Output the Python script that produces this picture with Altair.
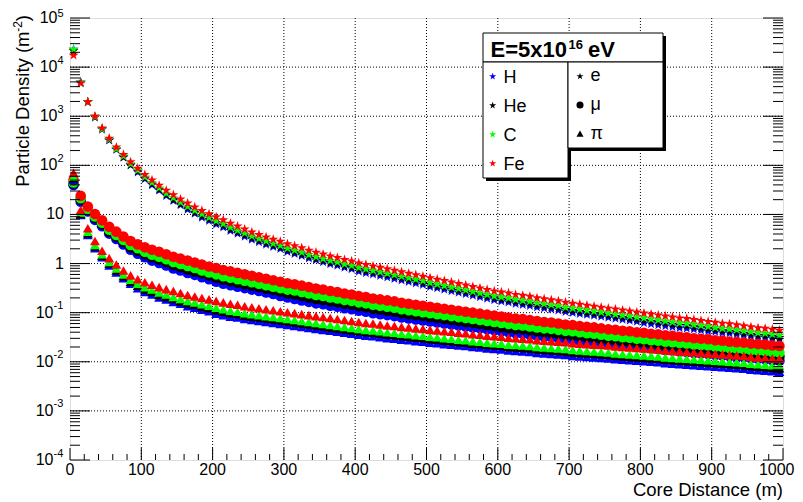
import altair as alt
import pandas as pd

FONT = "Liberation Sans"

# ---------------- data ----------------
core_distance_m = [
    5, 15, 25, 35, 45, 55, 65, 75, 85, 95,
    105, 115, 125, 135, 145, 155, 165, 175, 185, 195,
    205, 215, 225, 235, 245, 255, 265, 275, 285, 295,
    305, 315, 325, 335, 345, 355, 365, 375, 385, 395,
    405, 415, 425, 435, 445, 455, 465, 475, 485, 495,
    505, 515, 525, 535, 545, 555, 565, 575, 585, 595,
    605, 615, 625, 635, 645, 655, 665, 675, 685, 695,
    705, 715, 725, 735, 745, 755, 765, 775, 785, 795,
    805, 815, 825, 835, 845, 855, 865, 875, 885, 895,
    905, 915, 925, 935, 945, 955, 965, 975, 985, 995]

# log10 of particle density (m^-2)
e_H_log10 = [
    4.36, 3.69, 3.29, 2.98, 2.73, 2.51, 2.32, 2.16, 2.00, 1.86,
    1.72, 1.60, 1.49, 1.38, 1.28, 1.19, 1.10, 1.02, 0.94, 0.87,
    0.80, 0.74, 0.67, 0.61, 0.55, 0.49, 0.44, 0.39, 0.34, 0.30,
    0.24, 0.20, 0.16, 0.11, 0.07, 0.03, -0.01, -0.04, -0.08, -0.11,
    -0.16, -0.19, -0.22, -0.25, -0.28, -0.31, -0.34, -0.37, -0.40, -0.43,
    -0.47, -0.50, -0.53, -0.56, -0.59, -0.62, -0.65, -0.68, -0.71, -0.74,
    -0.77, -0.79, -0.82, -0.84, -0.86, -0.89, -0.91, -0.93, -0.95, -0.98,
    -1.00, -1.02, -1.04, -1.06, -1.08, -1.10, -1.12, -1.14, -1.16, -1.18,
    -1.21, -1.23, -1.25, -1.27, -1.29, -1.31, -1.32, -1.34, -1.36, -1.38,
    -1.39, -1.41, -1.42, -1.44, -1.46, -1.48, -1.50, -1.51, -1.53, -1.55]
e_He_log10 = [
    4.33, 3.69, 3.29, 2.98, 2.74, 2.52, 2.33, 2.17, 2.01, 1.88,
    1.74, 1.62, 1.51, 1.40, 1.30, 1.21, 1.13, 1.04, 0.97, 0.90,
    0.83, 0.77, 0.70, 0.64, 0.58, 0.52, 0.47, 0.42, 0.37, 0.33,
    0.27, 0.23, 0.19, 0.14, 0.10, 0.06, 0.02, -0.01, -0.05, -0.08,
    -0.12, -0.15, -0.18, -0.21, -0.24, -0.27, -0.30, -0.33, -0.36, -0.39,
    -0.43, -0.46, -0.49, -0.52, -0.55, -0.58, -0.61, -0.64, -0.67, -0.70,
    -0.73, -0.75, -0.78, -0.80, -0.82, -0.85, -0.87, -0.89, -0.91, -0.94,
    -0.96, -0.98, -1.00, -1.02, -1.04, -1.06, -1.08, -1.10, -1.12, -1.14,
    -1.16, -1.18, -1.20, -1.22, -1.24, -1.26, -1.27, -1.29, -1.31, -1.33,
    -1.35, -1.37, -1.38, -1.40, -1.42, -1.44, -1.46, -1.47, -1.49, -1.51]
e_C_log10 = [
    4.36, 3.68, 3.29, 2.99, 2.74, 2.53, 2.34, 2.19, 2.03, 1.90,
    1.76, 1.65, 1.54, 1.43, 1.34, 1.25, 1.16, 1.08, 1.01, 0.94,
    0.87, 0.81, 0.74, 0.68, 0.62, 0.56, 0.51, 0.46, 0.41, 0.37,
    0.31, 0.27, 0.23, 0.18, 0.14, 0.10, 0.06, 0.03, -0.01, -0.04,
    -0.08, -0.11, -0.14, -0.17, -0.20, -0.23, -0.26, -0.29, -0.32, -0.35,
    -0.39, -0.42, -0.45, -0.48, -0.51, -0.54, -0.57, -0.60, -0.63, -0.66,
    -0.68, -0.70, -0.73, -0.75, -0.77, -0.80, -0.82, -0.84, -0.86, -0.89,
    -0.91, -0.93, -0.95, -0.97, -0.99, -1.01, -1.03, -1.05, -1.07, -1.09,
    -1.11, -1.13, -1.15, -1.17, -1.19, -1.21, -1.22, -1.24, -1.26, -1.28,
    -1.30, -1.32, -1.33, -1.35, -1.37, -1.39, -1.41, -1.42, -1.44, -1.46]
e_Fe_log10 = [
    4.24, 3.67, 3.29, 3.00, 2.76, 2.55, 2.37, 2.22, 2.07, 1.94,
    1.81, 1.70, 1.59, 1.49, 1.40, 1.31, 1.23, 1.15, 1.08, 1.01,
    0.95, 0.89, 0.82, 0.76, 0.70, 0.64, 0.59, 0.54, 0.49, 0.45,
    0.40, 0.36, 0.32, 0.27, 0.23, 0.19, 0.15, 0.12, 0.08, 0.05,
    0.01, -0.02, -0.05, -0.08, -0.11, -0.14, -0.17, -0.20, -0.23, -0.26,
    -0.29, -0.32, -0.35, -0.38, -0.41, -0.44, -0.47, -0.50, -0.53, -0.56,
    -0.58, -0.60, -0.63, -0.65, -0.67, -0.70, -0.72, -0.74, -0.76, -0.79,
    -0.81, -0.83, -0.85, -0.87, -0.89, -0.91, -0.93, -0.95, -0.97, -0.99,
    -1.01, -1.03, -1.05, -1.07, -1.09, -1.11, -1.12, -1.14, -1.16, -1.18,
    -1.20, -1.22, -1.23, -1.25, -1.27, -1.29, -1.31, -1.32, -1.34, -1.36]

mu_H_log10 = [
    1.60, 1.26, 1.06, 0.89, 0.76, 0.61, 0.50, 0.39, 0.28, 0.20,
    0.13, 0.06, 0.01, -0.04, -0.10, -0.14, -0.19, -0.23, -0.28, -0.32,
    -0.37, -0.41, -0.44, -0.47, -0.50, -0.53, -0.56, -0.59, -0.62, -0.66,
    -0.69, -0.72, -0.75, -0.78, -0.81, -0.83, -0.86, -0.88, -0.91, -0.93,
    -0.96, -0.98, -1.01, -1.03, -1.05, -1.07, -1.10, -1.12, -1.14, -1.16,
    -1.18, -1.20, -1.22, -1.24, -1.26, -1.28, -1.30, -1.32, -1.34, -1.36,
    -1.38, -1.40, -1.42, -1.43, -1.45, -1.47, -1.49, -1.50, -1.52, -1.54,
    -1.55, -1.57, -1.59, -1.60, -1.62, -1.64, -1.65, -1.67, -1.68, -1.70,
    -1.71, -1.73, -1.74, -1.76, -1.77, -1.79, -1.80, -1.82, -1.83, -1.84,
    -1.86, -1.87, -1.89, -1.90, -1.91, -1.93, -1.94, -1.95, -1.97, -1.98]
mu_He_log10 = [
    1.63, 1.30, 1.09, 0.93, 0.80, 0.65, 0.55, 0.44, 0.33, 0.26,
    0.19, 0.13, 0.08, 0.03, -0.03, -0.07, -0.12, -0.16, -0.20, -0.24,
    -0.29, -0.33, -0.36, -0.39, -0.42, -0.45, -0.48, -0.51, -0.54, -0.57,
    -0.61, -0.63, -0.66, -0.69, -0.72, -0.74, -0.77, -0.79, -0.82, -0.84,
    -0.87, -0.89, -0.92, -0.94, -0.96, -0.98, -1.01, -1.03, -1.05, -1.07,
    -1.09, -1.11, -1.13, -1.15, -1.17, -1.19, -1.21, -1.23, -1.25, -1.27,
    -1.29, -1.31, -1.33, -1.34, -1.36, -1.38, -1.40, -1.41, -1.43, -1.45,
    -1.46, -1.48, -1.50, -1.51, -1.53, -1.55, -1.56, -1.58, -1.59, -1.61,
    -1.62, -1.64, -1.65, -1.67, -1.68, -1.70, -1.71, -1.73, -1.74, -1.75,
    -1.77, -1.78, -1.80, -1.81, -1.82, -1.84, -1.85, -1.86, -1.88, -1.89]
mu_C_log10 = [
    1.65, 1.33, 1.11, 0.96, 0.83, 0.69, 0.58, 0.48, 0.38, 0.31,
    0.24, 0.18, 0.14, 0.09, 0.03, -0.01, -0.05, -0.09, -0.14, -0.18,
    -0.22, -0.26, -0.29, -0.32, -0.35, -0.38, -0.41, -0.44, -0.47, -0.50,
    -0.53, -0.55, -0.58, -0.61, -0.64, -0.66, -0.69, -0.71, -0.74, -0.76,
    -0.79, -0.81, -0.84, -0.86, -0.88, -0.90, -0.93, -0.95, -0.97, -0.99,
    -1.01, -1.03, -1.05, -1.07, -1.09, -1.11, -1.13, -1.15, -1.17, -1.19,
    -1.21, -1.23, -1.25, -1.26, -1.28, -1.30, -1.32, -1.33, -1.35, -1.37,
    -1.38, -1.40, -1.42, -1.43, -1.45, -1.47, -1.48, -1.50, -1.51, -1.53,
    -1.54, -1.56, -1.57, -1.59, -1.60, -1.62, -1.63, -1.65, -1.66, -1.67,
    -1.69, -1.70, -1.72, -1.73, -1.74, -1.76, -1.77, -1.78, -1.80, -1.81]
mu_Fe_log10 = [
    1.70, 1.38, 1.16, 1.01, 0.88, 0.75, 0.65, 0.55, 0.46, 0.39,
    0.33, 0.28, 0.24, 0.19, 0.14, 0.10, 0.06, 0.02, -0.02, -0.06,
    -0.09, -0.13, -0.16, -0.19, -0.22, -0.25, -0.28, -0.31, -0.34, -0.37,
    -0.40, -0.42, -0.45, -0.48, -0.51, -0.53, -0.56, -0.58, -0.61, -0.63,
    -0.66, -0.68, -0.71, -0.73, -0.75, -0.77, -0.80, -0.82, -0.84, -0.86,
    -0.88, -0.90, -0.92, -0.94, -0.96, -0.98, -1.00, -1.02, -1.04, -1.06,
    -1.08, -1.10, -1.12, -1.13, -1.15, -1.17, -1.19, -1.20, -1.22, -1.24,
    -1.25, -1.27, -1.29, -1.30, -1.32, -1.34, -1.35, -1.37, -1.38, -1.40,
    -1.41, -1.43, -1.44, -1.46, -1.47, -1.49, -1.50, -1.52, -1.53, -1.54,
    -1.56, -1.57, -1.59, -1.60, -1.61, -1.63, -1.64, -1.65, -1.67, -1.68]

pi_H_log10 = [
    1.70, 0.99, 0.58, 0.31, 0.13, -0.04, -0.18, -0.30, -0.41, -0.50,
    -0.58, -0.63, -0.69, -0.73, -0.78, -0.82, -0.87, -0.90, -0.94, -0.97,
    -1.02, -1.05, -1.08, -1.10, -1.13, -1.15, -1.17, -1.19, -1.21, -1.23,
    -1.25, -1.27, -1.29, -1.31, -1.33, -1.35, -1.37, -1.39, -1.41, -1.43,
    -1.45, -1.47, -1.48, -1.50, -1.52, -1.53, -1.55, -1.56, -1.58, -1.59,
    -1.61, -1.62, -1.64, -1.65, -1.67, -1.68, -1.70, -1.71, -1.73, -1.74,
    -1.75, -1.77, -1.78, -1.79, -1.80, -1.82, -1.83, -1.84, -1.85, -1.86,
    -1.88, -1.89, -1.90, -1.91, -1.92, -1.93, -1.95, -1.96, -1.97, -1.98,
    -1.99, -2.00, -2.01, -2.03, -2.04, -2.05, -2.06, -2.07, -2.08, -2.09,
    -2.10, -2.11, -2.12, -2.13, -2.14, -2.16, -2.17, -2.18, -2.19, -2.20]
pi_He_log10 = [
    1.74, 1.01, 0.62, 0.35, 0.16, 0.00, -0.14, -0.26, -0.37, -0.45,
    -0.53, -0.58, -0.64, -0.68, -0.72, -0.77, -0.81, -0.84, -0.88, -0.91,
    -0.95, -0.98, -1.01, -1.03, -1.06, -1.08, -1.10, -1.12, -1.14, -1.16,
    -1.18, -1.20, -1.22, -1.24, -1.26, -1.28, -1.30, -1.32, -1.34, -1.36,
    -1.38, -1.40, -1.41, -1.43, -1.45, -1.46, -1.48, -1.49, -1.51, -1.52,
    -1.54, -1.55, -1.57, -1.58, -1.60, -1.61, -1.63, -1.64, -1.66, -1.67,
    -1.68, -1.70, -1.71, -1.72, -1.73, -1.75, -1.76, -1.77, -1.78, -1.79,
    -1.81, -1.82, -1.83, -1.84, -1.85, -1.86, -1.88, -1.89, -1.90, -1.91,
    -1.92, -1.93, -1.94, -1.96, -1.97, -1.98, -1.99, -2.00, -2.01, -2.02,
    -2.03, -2.04, -2.05, -2.06, -2.07, -2.09, -2.10, -2.11, -2.12, -2.13]
pi_C_log10 = [
    1.77, 1.04, 0.65, 0.38, 0.19, 0.03, -0.10, -0.22, -0.33, -0.41,
    -0.48, -0.53, -0.59, -0.63, -0.68, -0.72, -0.76, -0.79, -0.83, -0.86,
    -0.90, -0.93, -0.96, -0.98, -1.01, -1.03, -1.05, -1.07, -1.09, -1.11,
    -1.13, -1.15, -1.17, -1.19, -1.21, -1.23, -1.25, -1.27, -1.29, -1.31,
    -1.33, -1.35, -1.36, -1.38, -1.40, -1.41, -1.43, -1.44, -1.46, -1.47,
    -1.49, -1.50, -1.52, -1.53, -1.55, -1.56, -1.58, -1.59, -1.61, -1.62,
    -1.63, -1.65, -1.66, -1.67, -1.68, -1.70, -1.71, -1.72, -1.73, -1.74,
    -1.76, -1.77, -1.78, -1.79, -1.80, -1.81, -1.83, -1.84, -1.85, -1.86,
    -1.87, -1.88, -1.89, -1.91, -1.92, -1.93, -1.94, -1.95, -1.96, -1.97,
    -1.98, -1.99, -2.00, -2.01, -2.02, -2.04, -2.05, -2.06, -2.07, -2.08]
pi_Fe_log10 = [
    1.85, 1.09, 0.72, 0.46, 0.26, 0.11, -0.02, -0.14, -0.24, -0.32,
    -0.38, -0.43, -0.48, -0.52, -0.56, -0.60, -0.64, -0.67, -0.70, -0.73,
    -0.76, -0.79, -0.82, -0.84, -0.87, -0.89, -0.91, -0.93, -0.95, -0.97,
    -0.99, -1.01, -1.03, -1.05, -1.07, -1.09, -1.11, -1.13, -1.15, -1.17,
    -1.19, -1.21, -1.22, -1.24, -1.26, -1.27, -1.29, -1.30, -1.32, -1.33,
    -1.35, -1.36, -1.38, -1.39, -1.41, -1.42, -1.44, -1.45, -1.47, -1.48,
    -1.49, -1.51, -1.52, -1.53, -1.54, -1.56, -1.57, -1.58, -1.59, -1.60,
    -1.62, -1.63, -1.64, -1.65, -1.66, -1.67, -1.69, -1.70, -1.71, -1.72,
    -1.73, -1.74, -1.75, -1.77, -1.78, -1.79, -1.80, -1.81, -1.82, -1.83,
    -1.84, -1.85, -1.86, -1.87, -1.88, -1.90, -1.91, -1.92, -1.93, -1.94]

primaries = ["H", "He", "C", "Fe"]
primary_colors = ["#0000ff", "#000000", "#00ff00", "#ff0000"]
particles = ["e", "mu", "pi"]
particle_symbols = ["e", "μ", "π"]

x_major_ticks = [0, 100, 200, 300, 400, 500, 600, 700, 800, 900, 1000]
x_tick_labels = ["0", "100", "200", "300", "400", "500", "600", "700", "800", "900", "1000"]
x_minor_ticks = [v for v in range(20, 1000, 20) if v % 100 != 0]
y_major_ticks = [1e-4, 1e-3, 1e-2, 1e-1, 1, 10, 1e2, 1e3, 1e4, 1e5]
y_minor_mantissas = [2, 3, 4, 5, 6, 7, 8, 9]
y_minor_ticks = [m * d for d in y_major_ticks[:-1] for m in y_minor_mantissas]

series = {
    ("H", "e"): e_H_log10, ("He", "e"): e_He_log10, ("C", "e"): e_C_log10, ("Fe", "e"): e_Fe_log10,
    ("H", "mu"): mu_H_log10, ("He", "mu"): mu_He_log10, ("C", "mu"): mu_C_log10, ("Fe", "mu"): mu_Fe_log10,
    ("H", "pi"): pi_H_log10, ("He", "pi"): pi_He_log10, ("C", "pi"): pi_C_log10, ("Fe", "pi"): pi_Fe_log10,
}

rows = []
for p in primaries:
    for q in particles:
        vals = series[(p, q)]
        assert len(vals) == len(core_distance_m), (p, q, len(vals))
        for r, v in zip(core_distance_m, vals):
            rows.append({"r": r, "density": 10 ** v, "primary": p, "particle": q})
df = pd.DataFrame(rows)

# ---------------- styling ----------------
W, H = 713, 442
STAR = ("M0,-1L0.225,-0.309L0.951,-0.309L0.363,0.118L0.588,0.809L0,0.382"
        "L-0.588,0.809L-0.363,0.118L-0.951,-0.309L-0.225,-0.309Z")
shapes = [STAR, "circle", "triangle-up"]
sizes = [110, 112, 98]

xscale = alt.Scale(domain=[0, 1000], nice=False, zero=False)
yscale = alt.Scale(type="log", domain=[1e-4, 1e5], nice=False)
color_scale = alt.Scale(domain=primaries, range=primary_colors)

layers = []

# dotted grid
layers.append(
    alt.Chart(pd.DataFrame({"v": x_major_ticks[1:-1]})).mark_rule(
        color="#000000", strokeWidth=1, strokeDash=[1, 2]).encode(
        x=alt.X("v:Q", scale=xscale, axis=None), y=alt.value(0), y2=alt.value(H)))
layers.append(
    alt.Chart(pd.DataFrame({"v": y_major_ticks[1:-1]})).mark_rule(
        color="#000000", strokeWidth=1, strokeDash=[1, 2]).encode(
        y=alt.Y("v:Q", scale=yscale, axis=None), x=alt.value(0), x2=alt.value(W)))

# data points
for q, shp, sz in zip(particles, shapes, sizes):
    sub = df[df["particle"] == q]
    layers.append(
        alt.Chart(sub).mark_point(filled=True, shape=shp, size=sz, opacity=1, strokeWidth=0).encode(
            x=alt.X("r:Q", scale=xscale, axis=None),
            y=alt.Y("density:Q", scale=yscale, axis=None),
            color=alt.Color("primary:N", scale=color_scale, legend=None),
        )
    )

# inward ticks
def yticks(values, x0, x1):
    return alt.Chart(pd.DataFrame({"v": values})).mark_rule(color="black", strokeWidth=1).encode(
        y=alt.Y("v:Q", scale=yscale, axis=None), x=alt.value(x0), x2=alt.value(x1))

def xticks(values, y0, y1):
    return alt.Chart(pd.DataFrame({"v": values})).mark_rule(color="black", strokeWidth=1).encode(
        x=alt.X("v:Q", scale=xscale, axis=None), y=alt.value(y0), y2=alt.value(y1))

layers += [
    yticks(y_major_ticks, 0, 20), yticks(y_minor_ticks, 0, 10),
    yticks(y_major_ticks, W, W - 20), yticks(y_minor_ticks, W, W - 10),
    xticks(x_major_ticks, H, H - 12), xticks(x_minor_ticks, H, H - 6),
]

# x tick labels (the last one is kept inside the page's right edge)
layers.append(
    alt.Chart(pd.DataFrame({"v": x_major_ticks[:-1], "t": x_tick_labels[:-1]})).mark_text(
        font=FONT, fontSize=16, align="center", baseline="alphabetic", color="black").encode(
        x=alt.X("v:Q", scale=xscale, axis=None), y=alt.value(H + 15), text="t:N"))
layers.append(
    alt.Chart(pd.DataFrame({"v": x_major_ticks[-1:], "t": x_tick_labels[-1:]})).mark_text(
        font=FONT, fontSize=16, align="right", baseline="alphabetic", color="black", dx=11.5).encode(
        x=alt.X("v:Q", scale=xscale, axis=None), y=alt.value(H + 15), text="t:N"))

# y tick labels with superscript exponents
def ylabel_layer(values, text, x, size, dy, align):
    return alt.Chart(pd.DataFrame({"v": values, "t": text})).mark_text(
        font=FONT, fontSize=size, align=align, baseline="middle", dy=dy, color="black").encode(
        y=alt.Y("v:Q", scale=yscale, axis=None), x=alt.value(x), text="t:N")

plain_vals = [10, 1]
top_vals = [1e5]
pos_vals = [1e4, 1e3, 1e2]
neg_vals = [1e-1, 1e-2, 1e-3, 1e-4]
layers += [
    ylabel_layer(plain_vals, ["10", "1"], -6, 16, 0, "right"),
    ylabel_layer(top_vals, ["10"], -12.5, 16, 0, "right"),
    ylabel_layer(top_vals, ["5"], -12.5, 11, -4.5, "left"),
    ylabel_layer(pos_vals, ["10"] * 3, -12.5, 16, 0, "right"),
    ylabel_layer(pos_vals, ["4", "3", "2"], -12.5, 11, -6.5, "left"),
    ylabel_layer(neg_vals, ["10"] * 4, -16.5, 16, 0, "right"),
    ylabel_layer(neg_vals, ["-1", "-2", "-3", "-4"], -16.5, 11, -6.5, "left"),
]

def label(text, x, y, size=18, weight="normal", align="left", baseline="alphabetic", angle=0, color="black"):
    kw = dict(font=FONT, fontSize=size, fontWeight=weight, align=align, baseline=baseline, color=color)
    if angle:
        kw["angle"] = angle
    return alt.Chart(pd.DataFrame({"t": [text]})).mark_text(**kw).encode(
        x=alt.value(x), y=alt.value(y), text="t:N")

# axis titles
layers += [
    label(")", -41, -3, 18.5, align="right", angle=270),
    label("-2", -48, 3, 12, align="right", angle=270),
    label("Particle Density (m", -41, 13.5, 18.5, align="right", angle=270),
    label("Core Distance (m)", W, 478, 18.5, align="right"),
]

# legend boxes
def box(x0, y0, x1, y1, fill, stroke=None):
    kw = dict(fill=fill)
    if stroke:
        kw.update(stroke=stroke, strokeWidth=1)
    return alt.Chart(pd.DataFrame({"a": [0]})).mark_rect(**kw).encode(
        x=alt.value(x0), x2=alt.value(x1), y=alt.value(y0), y2=alt.value(y1))

title_box = (413, 15, 593, 44)
left_box = (413, 44, 498, 160)
right_box = (498, 44, 593, 130)
for b in (title_box, left_box, right_box):
    layers.append(box(b[0] + 3, b[1] + 3, b[2] + 3, b[3] + 3, "#000000"))
for b in (title_box, left_box, right_box):
    layers.append(box(*b, "#ffffff", "#000000"))

layers += [
    label("E=5x10", 420.5, 38.5, 22, "bold"),
    label("16", 498.5, 31, 13, "bold"),
    label("eV", 518, 38.5, 22, "bold"),
]

def legend_marker(x, y, shape, size, color):
    return alt.Chart(pd.DataFrame({"a": [0]})).mark_point(
        filled=True, shape=shape, size=size, opacity=1, strokeWidth=0, color=color).encode(
        x=alt.value(x), y=alt.value(y))

row_h_left = (left_box[3] - left_box[1]) / 4
for k, (p, c) in enumerate(zip(primaries, primary_colors)):
    cy = left_box[1] + row_h_left * (k + 0.5)
    layers.append(legend_marker(422.7, cy, STAR, 55, c))
    layers.append(label(p, 433.5, cy + 6.5, 18))

row_h_right = (right_box[3] - right_box[1]) / 3
for k, (sym, shp, sz) in enumerate(zip(particle_symbols, shapes, [55, 50, 50])):
    cy = right_box[1] + row_h_right * (k + 0.5)
    layers.append(legend_marker(510, cy, shp, sz, "#000000"))
    layers.append(label(sym, 520.5, cy + 5, 18))

chart = alt.layer(*layers).properties(
    width=W, height=H,
    padding={"left": 62, "top": 10, "right": 12, "bottom": 40},
    autosize=alt.AutoSizeParams(type="none"),
).configure_view(stroke="black", strokeWidth=1.5).configure(background="white")

chart.save("out.html", embed_options={"renderer": "svg", "actions": False})
